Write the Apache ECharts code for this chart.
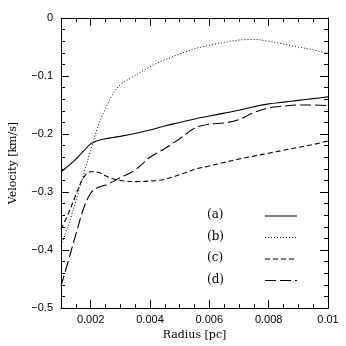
<!DOCTYPE html>
<html>
<head>
<meta charset="utf-8">
<script src="https://cdn.jsdelivr.net/npm/echarts@6/dist/echarts.min.js"></script>
<style>
  html, body { margin: 0; padding: 0; background: #fff; }
  #chart { width: 346px; height: 346px; }
</style>
</head>
<body>
<div id="chart"></div>
<script>
// radius samples [pc]
var radius = [0.001, 0.00125, 0.0015, 0.00175, 0.002, 0.00225, 0.0025, 0.00275, 0.003, 0.0035,
  0.004, 0.0045, 0.005, 0.0055, 0.006, 0.0065, 0.007, 0.0075, 0.008, 0.0085, 0.009, 0.0095, 0.01];

// velocity [km/s] for each model
var velA = [-0.265, -0.255, -0.243, -0.230, -0.217, -0.211, -0.208, -0.206, -0.204, -0.199,
  -0.193, -0.186, -0.180, -0.174, -0.169, -0.164, -0.159, -0.153, -0.148, -0.145, -0.142, -0.139, -0.136];
var velB = [-0.392, -0.357, -0.315, -0.272, -0.228, -0.186, -0.156, -0.131, -0.115, -0.099,
  -0.084, -0.072, -0.062, -0.053, -0.047, -0.042, -0.038, -0.037, -0.040, -0.045, -0.050, -0.055, -0.061];
var velC = [-0.364, -0.337, -0.305, -0.276, -0.265, -0.266, -0.272, -0.277, -0.280, -0.282,
  -0.281, -0.278, -0.270, -0.261, -0.255, -0.249, -0.243, -0.238, -0.233, -0.228, -0.223, -0.218, -0.212];
var velD = [-0.462, -0.418, -0.373, -0.330, -0.302, -0.292, -0.288, -0.282, -0.275, -0.262,
  -0.240, -0.225, -0.208, -0.190, -0.183, -0.181, -0.175, -0.163, -0.155, -0.152, -0.150, -0.150, -0.151];

var labels = ["(a)", "(b)", "(c)", "(d)"];
var xMajor = [0.002, 0.004, 0.006, 0.008, 0.01];
var xMinor = [0.0015, 0.0025, 0.003, 0.0035, 0.0045, 0.005, 0.0055, 0.0065, 0.007, 0.0075,
  0.0085, 0.009, 0.0095];

var chart = echarts.init(document.getElementById("chart"));

function pairs(ys) {
  return radius.map(function (r, i) { return [r, ys[i]]; });
}

var dashes = ["solid", [1, 2], [5, 3], [11, 4]];
var allVel = [velA, velB, velC, velD];

var tickFont = { fontFamily: "Liberation Sans", fontSize: 11, color: "#000" };
var lineStyle = { color: "#000", width: 1 };

function xAxisDef(pos, ticks, len, showLabel) {
  return {
    type: "value", position: pos, min: 0.001, max: 0.01, gridIndex: 0,
    splitLine: { show: false },
    axisLine: { show: showLabel !== null, onZero: false, lineStyle: lineStyle },
    axisTick: { show: true, inside: true, length: len, customValues: ticks, lineStyle: lineStyle },
    axisLabel: showLabel ? Object.assign({
      customValues: xMajor, margin: 6,
      formatter: function (v) { return parseFloat(v.toFixed(4)).toString(); }
    }, tickFont) : { show: false }
  };
}

var xAxes = [
  xAxisDef("bottom", xMajor, 8, true),
  xAxisDef("bottom", xMinor, 4, null),
  xAxisDef("top", xMajor, 8, false),
  xAxisDef("top", xMinor, 4, null)
];
xAxes[0].name = "Radius [pc]";
xAxes[0].nameLocation = "middle";
xAxes[0].nameGap = 21;
xAxes[0].nameTextStyle = { fontFamily: "DejaVu Serif", fontSize: 11, color: "#000" };

function yAxisDef(pos, showLabel) {
  return {
    type: "value", position: pos, min: -0.5, max: 0, interval: 0.1,
    splitLine: { show: false },
    axisLine: { show: true, onZero: false, lineStyle: lineStyle },
    axisTick: { show: true, inside: true, length: 8, lineStyle: lineStyle },
    minorTick: { show: true, splitNumber: 5, length: 4, lineStyle: lineStyle },
    axisLabel: showLabel ? Object.assign({
      margin: 8,
      formatter: function (v) { return Math.abs(v) < 1e-9 ? "0" : "\u2212" + Math.abs(v).toFixed(1); }
    }, tickFont) : { show: false }
  };
}

var yAxes = [yAxisDef("left", true), yAxisDef("right", false)];
yAxes[0].name = "Velocity [km/s]";
yAxes[0].nameLocation = "middle";
yAxes[0].nameGap = 42;
yAxes[0].nameTextStyle = { fontFamily: "DejaVu Serif", fontSize: 11, color: "#000" };

var series = allVel.map(function (v, i) {
  return {
    name: labels[i],
    type: "line",
    xAxisIndex: 0,
    yAxisIndex: 0,
    data: pairs(v),
    smooth: 0.35,
    symbol: "none",
    lineStyle: { color: "#000", width: i === 1 ? 1 : 1.1, type: dashes[i] },
    silent: true
  };
});

// legend drawn by hand: label text and a short line sample
var legendItems = [];
labels.forEach(function (lab, i) {
  var y = 216 + i * 21.5;
  legendItems.push({
    type: "text", left: 207, top: y - 7,
    style: { text: lab, font: "12px 'DejaVu Serif'", fill: "#000" }
  });
  legendItems.push({
    type: "line",
    shape: { x1: 265, y1: y, x2: 297, y2: y },
    style: { stroke: "#000", lineWidth: 1, lineDash: i === 0 ? null : dashes[i] }
  });
});

var option = {
  animation: false,
  backgroundColor: "#fff",
  grid: { left: 53, right: 18, top: 18, bottom: 37 },
  xAxis: xAxes,
  yAxis: yAxes,
  series: series,
  graphic: legendItems
};

chart.setOption(option);
</script>
</body>
</html>
